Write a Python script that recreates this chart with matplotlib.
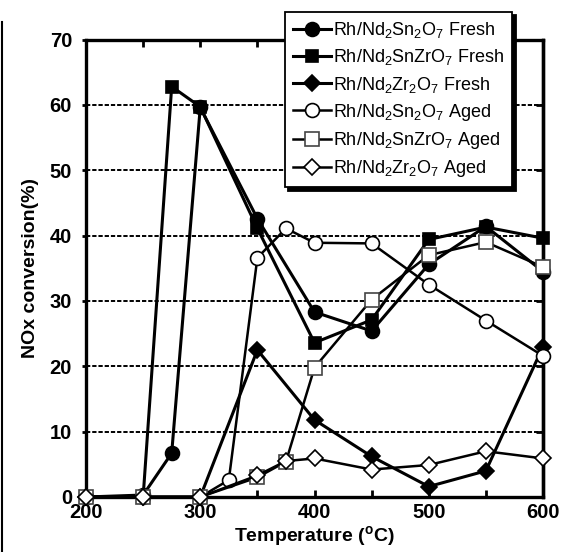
import matplotlib
matplotlib.use("Agg")
import matplotlib.pyplot as plt
from matplotlib.lines import Line2D

plt.rcParams['font.family'] = ['Liberation Sans', 'DejaVu Sans']
plt.rcParams['mathtext.fontset'] = 'custom'
plt.rcParams['mathtext.rm'] = 'Liberation Sans'
plt.rcParams['mathtext.bf'] = 'Liberation Sans:bold'
plt.rcParams['mathtext.default'] = 'regular'

# data
t_fresh_sn = [200, 250, 275, 300, 350, 400, 450, 500, 550, 600]
v_fresh_sn = [0, 0.3, 6.7, 59.6, 42.6, 28.3, 25.4, 35.6, 41.4, 34.5]
t_fresh_snzr = [200, 250, 275, 300, 350, 400, 450, 500, 550, 600]
v_fresh_snzr = [0, 0, 62.8, 59.7, 41.1, 23.6, 27.1, 39.4, 41.3, 39.6]
t_fresh_zr = [200, 250, 300, 350, 400, 450, 500, 550, 600]
v_fresh_zr = [0, 0, 0, 22.5, 11.8, 6.2, 1.6, 4.0, 23.0]
t_aged_sn = [200, 250, 300, 325, 350, 375, 400, 450, 500, 550, 600]
v_aged_sn = [0, 0, 0, 2.6, 36.6, 41.1, 38.9, 38.8, 32.5, 27.0, 21.6]
t_aged_snzr = [200, 250, 300, 350, 375, 400, 450, 500, 550, 600]
v_aged_snzr = [0, 0, 0, 3.0, 5.4, 19.8, 30.2, 37.0, 39.0, 35.2]
t_aged_zr = [200, 250, 300, 350, 375, 400, 450, 500, 550, 600]
v_aged_zr = [0, 0, 0, 3.3, 5.5, 5.9, 4.2, 4.9, 7.0, 5.9]

labels = ['Rh/Nd$_2$Sn$_2$O$_7$ Fresh', 'Rh/Nd$_2$SnZrO$_7$ Fresh',
          'Rh/Nd$_2$Zr$_2$O$_7$ Fresh', 'Rh/Nd$_2$Sn$_2$O$_7$ Aged',
          'Rh/Nd$_2$SnZrO$_7$ Aged', 'Rh/Nd$_2$Zr$_2$O$_7$ Aged']

fig = plt.figure(figsize=(5.61, 5.52), dpi=100)
ax = fig.add_axes([86/561, 1-497/552, (543-86)/561, (497-39.5)/552])

series = [
    (t_fresh_snzr, v_fresh_snzr, 's', 'black', 'black', 9, 2.2, 1),
    (t_fresh_sn, v_fresh_sn, 'o', 'black', 'black', 10, 2.2, 0),
    (t_fresh_zr, v_fresh_zr, 'D', 'black', 'black', 8, 2.2, 2),
    (t_aged_sn, v_aged_sn, 'o', 'white', 'black', 10, 1.8, 3),
    (t_aged_snzr, v_aged_snzr, 's', 'white', '#444444', 9.5, 1.8, 4),
    (t_aged_zr, v_aged_zr, 'D', 'white', 'black', 8, 1.8, 5),
]
handles = [None] * 6
for t, v, m, fc, ec, ms, lw, idx in series:
    h, = ax.plot(t, v, color='black', lw=lw, marker=m, markersize=ms,
                 markerfacecolor=fc, markeredgecolor=ec, markeredgewidth=1.2,
                 clip_on=False, zorder=3 + idx)
    handles[idx] = h

ax.set_xlim(200, 600)
ax.set_ylim(0, 70)
ax.set_xticks([200, 300, 400, 500, 600])
ax.set_xticks([250, 350, 450, 550], minor=True)
ax.set_yticks(range(0, 71, 10))
for y in range(10, 70, 10):
    ax.axhline(y, color='black', lw=1.4, linestyle=(0, (2.2, 1.0)), zorder=1)

for s in ax.spines.values():
    s.set_linewidth(2.4)
ax.tick_params(axis='x', which='both', direction='in', top=True, bottom=True,
               length=5, width=2, pad=4)
ax.tick_params(axis='y', which='major', direction='out', left=True, right=False,
               length=3, width=2, pad=7)
for tl in ax.get_xticklabels() + ax.get_yticklabels():
    tl.set_fontsize(14.5)
    tl.set_fontweight('bold')

# inward ticks on the right side
sec = ax.secondary_yaxis('right')
sec.set_yticks(range(0, 71, 10))
sec.tick_params(direction='in', length=5, width=2, labelright=False)
sec.spines['right'].set_linewidth(2.4)

ax.set_xlabel('Temperature ($^\\mathbf{o}$C)', fontsize=14, fontweight='bold', labelpad=2)
ax.set_ylabel('NOx conversion(%)', fontsize=14, fontweight='bold', labelpad=8)

leg = fig.legend(handles, labels, loc='upper left',
                 bbox_to_anchor=(285/561, 1-12/552), bbox_transform=fig.transFigure,
                 borderaxespad=0, fontsize=13, numpoints=1, handlelength=2.1,
                 handletextpad=0.1, labelspacing=0.4, borderpad=0.45,
                 fancybox=False, framealpha=1, edgecolor='black',
                 shadow={'color': 'black', 'alpha': 1, 'ox': 2.5, 'oy': -2.5})
leg.get_frame().set_linewidth(1.3)
leg.set_zorder(20)

fig.add_artist(Line2D([1.5/561, 1.5/561], [0, 1-22/552], color='black', lw=1.5,
                      transform=fig.transFigure))

fig.savefig('out.png', dpi=100)
